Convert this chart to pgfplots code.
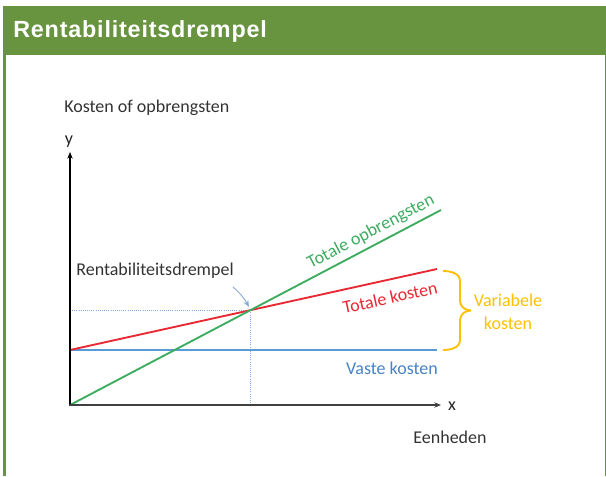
\documentclass[border=0pt]{standalone}
\usepackage{pgfplots}
\pgfplotsset{compat=1.18}
\usepackage{fontspec}
\setmainfont{Carlito}
\newfontfamily\titlefont{Liberation Sans}[LetterSpace=3.5]
\usetikzlibrary{arrows.meta}
\definecolor{hdr}{RGB}{104,147,63}
\definecolor{cgreen}{RGB}{60,172,95}
\definecolor{cred}{RGB}{232,40,50}
\definecolor{cblue}{RGB}{91,155,213}
\definecolor{cbluetext}{RGB}{70,130,200}
\definecolor{corange}{RGB}{255,192,0}
\definecolor{cdot}{RGB}{130,170,225}
\definecolor{carrow}{RGB}{140,170,210}
\begin{document}
\begin{tikzpicture}
\begin{axis}[
  x=0.75pt, y=0.75pt, scale only axis,
  xmin=-70, xmax=536, ymin=-71, ymax=405,
  hide axis, clip=false,
]
% frame and header
\path (axis cs:-70,-71) rectangle (axis cs:536,405);
\fill[hdr] (axis cs:-67,350) rectangle (axis cs:536,399);
\fill[hdr] (axis cs:-67,-71) rectangle (axis cs:-64,350);
\fill[hdr] (axis cs:534.5,-71) rectangle (axis cs:536,350);
\node[anchor=base west, inner sep=0, text=white, font=\titlefont\bfseries\fontsize{17.5}{19}\selectfont] at (axis cs:-57,367) {Rentabiliteitsdrempel};

% guide lines
\addplot[cdot, densely dotted, line width=0.6pt] coordinates {(0,95) (180.5,95)};
\addplot[cdot, densely dotted, line width=0.6pt] coordinates {(180.5,0) (180.5,95)};

% series
\addplot[cblue, line width=2pt] coordinates {(0,55) (367,55)};
\addplot[cred, line width=1.4pt] coordinates {(0,55) (367,136)};
\addplot[cgreen, line width=1.4pt] coordinates {(0,0) (371,195)};

% axes
\draw[black, line width=1.3pt, -{Stealth[length=5pt,width=4pt]}] (axis cs:0,-1) -- (axis cs:0,253);
\draw[black!75, line width=1.3pt, -{Stealth[length=5pt,width=4pt]}] (axis cs:-1,0) -- (axis cs:371,0);

\begin{scope}[font=\fontsize{13.5}{15}\selectfont]
\node[anchor=west, inner sep=0, text=black!80] at (axis cs:-6,297) {Kosten of opbrengsten};
\node[inner sep=0, text=black!85] at (axis cs:-1,263) {y};
\node[inner sep=0, text=black!85] at (axis cs:382,-1) {x};
\node[inner sep=0, text=black!80] at (axis cs:380,-32) {Eenheden};
\node[inner sep=0, text=black!80] at (axis cs:85,134) {Rentabiliteitsdrempel};
\node[inner sep=0, text=cgreen, rotate=27.7] at (axis cs:301,173) {Totale opbrengsten};
\node[inner sep=0, text=cred, rotate=12.4] at (axis cs:320,107.5) {Totale kosten};
\node[inner sep=0, text=cbluetext] at (axis cs:322,37) {Vaste kosten};
\node[inner sep=0, text=corange] at (axis cs:438,105) {Variabele};
\node[inner sep=0, text=corange] at (axis cs:438,82) {kosten};
\end{scope}

\draw[carrow, line width=0.7pt, -{Stealth[length=5pt,width=4pt]}] (axis cs:163,118) to[bend left=10] (axis cs:179,98);

% brace
\draw[corange, line width=1.4pt] (axis cs:373,134) to[out=0,in=90] (axis cs:390,124) -- (axis cs:390,104) to[out=-90,in=180] (axis cs:401,94.5);
\draw[corange, line width=1.4pt] (axis cs:401,94.5) to[out=180,in=90] (axis cs:390,85) -- (axis cs:390,65) to[out=-90,in=0] (axis cs:373,55);
\end{axis}
\end{tikzpicture}
\end{document}
